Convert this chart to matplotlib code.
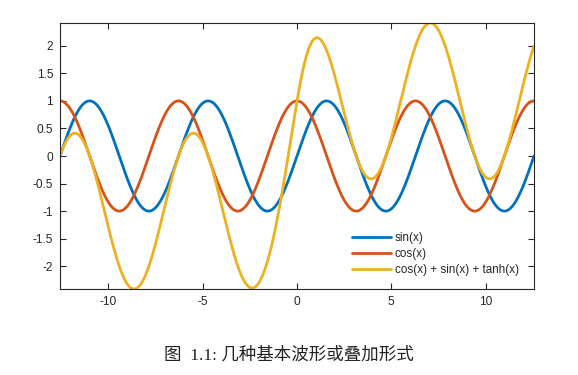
import numpy as np
import matplotlib
matplotlib.use("Agg")
import matplotlib.pyplot as plt

plt.rcParams["axes.unicode_minus"] = False

# x domain: -4*pi .. 4*pi
x_min, x_max = -4 * np.pi, 4 * np.pi
x = np.linspace(x_min, x_max, 2000)
series_labels = ["sin(x)", "cos(x)", "cos(x) + sin(x) + tanh(x)"]
y_sin = np.sin(x)
y_cos = np.cos(x)
y_sum = np.cos(x) + np.sin(x) + np.tanh(x)
colors = ["#0072BD", "#D95319", "#EDB120"]
xticks = [-10, -5, 0, 5, 10]
yticks = [-2, -1.5, -1, -0.5, 0, 0.5, 1, 1.5, 2]
ytick_labels = ["-2", "-1.5", "-1", "-0.5", "0", "0.5", "1", "1.5", "2"]
caption = "图  1.1: 几种基本波形或叠加形式"

fig = plt.figure(figsize=(5.78, 3.75), dpi=100)
W, H = 578, 375
left, right, top, bottom = 60, 534, 23, 289
ax = fig.add_axes([left / W, 1 - bottom / H, (right - left) / W, (bottom - top) / H])

for y, c, lab in zip([y_sin, y_cos, y_sum], colors, series_labels):
    ax.plot(x, y, color=c, lw=2, label=lab, solid_capstyle="round")

ymin = min(y_sin.min(), y_cos.min(), y_sum.min())
ymax = max(y_sin.max(), y_cos.max(), y_sum.max())
ax.set_xlim(x_min, x_max)
ax.set_ylim(ymin, ymax)
ax.set_xticks(xticks)
ax.set_yticks(yticks)
ax.set_yticklabels(ytick_labels)
ax.tick_params(direction="in", length=4, width=0.8, top=True, right=True,
               labelsize=8.6, colors="#262626", labelcolor="#262626", pad=5)
for t in ax.get_xticklabels() + ax.get_yticklabels():
    t.set_fontfamily("Liberation Sans")
for s in ax.spines.values():
    s.set_color("#262626")
    s.set_linewidth(0.8)

leg = ax.legend(loc="lower right", bbox_to_anchor=(1.0, -0.01), frameon=False,
                prop={"family": "Liberation Sans", "size": 8.4},
                handlelength=3.4, handletextpad=0.3, labelspacing=0.35,
                borderaxespad=0.9)
for t in leg.get_texts():
    t.set_color("#262626")

fig.text(0.5, 1 - 355 / H, caption, ha="center", va="center", fontsize=12.6,
         family=["Liberation Serif", "Noto Sans CJK SC"], color="#222222")

fig.savefig("out.png", dpi=100)
